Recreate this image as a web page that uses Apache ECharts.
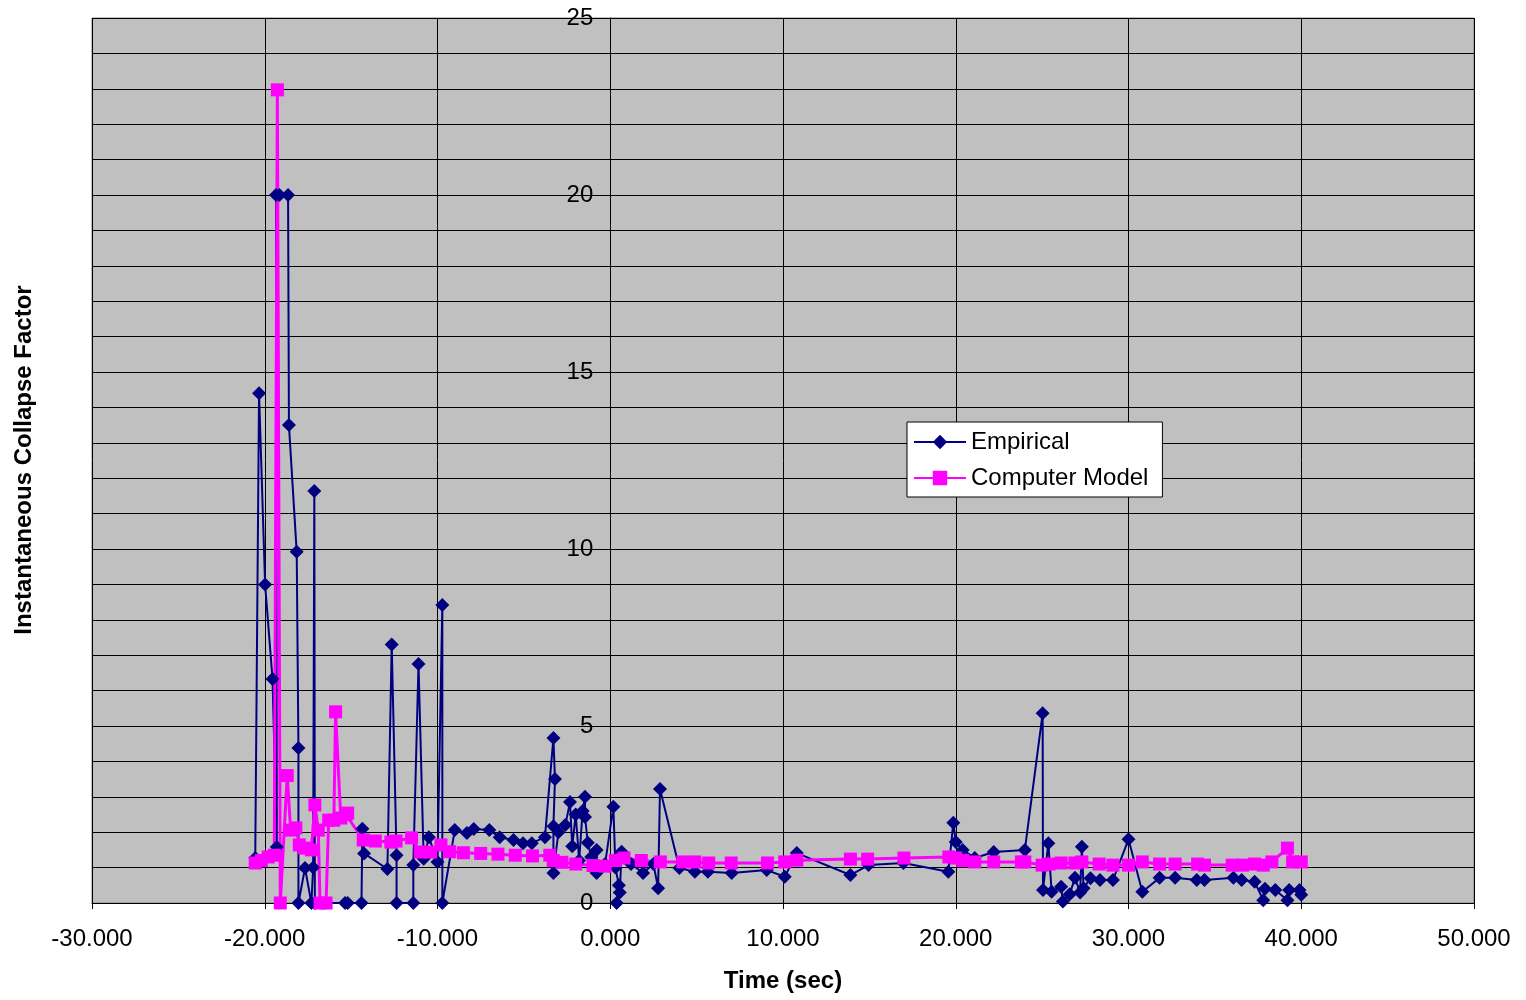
<!DOCTYPE html>
<html><head><meta charset="utf-8">
<script src="https://cdn.jsdelivr.net/npm/echarts@6/dist/echarts.min.js"></script>
<style>html,body{margin:0;padding:0;background:#fff}#c{width:1526px;height:1000px}</style>
</head><body><div id="c"></div>
<script>
const seriesNames = ["Empirical", "Computer Model"];
const empTime = [-20.55,-20.33,-19.98,-19.55,-19.3,-19.35,-19.15,-18.65,-18.6,-18.15,-18.05,-18.05,-17.67,-17.3,-17.2,-17.13,-17.1,-15.35,-15.2,-14.4,-14.35,-14.25,-12.9,-12.65,-12.37,-12.37,-11.4,-11.4,-11.1,-10.8,-10.5,-10.0,-9.72,-9.72,-9.0,-8.3,-7.9,-7.0,-6.4,-5.6,-5.05,-4.54,-3.78,-3.29,-3.2,-3.29,-3.29,-3.0,-2.6,-2.33,-2.2,-2.0,-1.8,-1.6,-1.46,-1.46,-1.3,-1.1,-0.79,-0.79,-0.3,0.18,0.3,0.5,0.37,0.55,0.66,1.2,1.9,2.5,2.77,2.88,4.0,4.9,5.65,7.03,9.06,10.1,10.8,13.9,14.95,16.97,19.57,19.86,20.0,20.4,21.1,22.2,24.0,25.03,25.05,25.36,25.55,26.1,26.2,26.6,26.9,27.2,27.3,27.4,27.8,28.35,29.1,30.0,30.8,31.8,32.7,33.95,34.4,36.07,36.55,37.3,37.8,37.9,38.5,39.2,39.3,39.9,40.0];
const empValue = [1.27,14.4,9.0,6.33,1.58,20.0,20.0,20.0,13.5,9.92,4.38,0,0.99,0,1.0,11.64,0,0,0,0,2.1,1.4,0.96,7.3,1.35,0,0,1.07,6.75,1.25,1.86,1.16,8.42,0,2.06,1.98,2.09,2.06,1.86,1.78,1.69,1.69,1.86,4.66,3.5,2.17,0.85,2.0,2.2,2.85,1.6,2.5,1.2,2.6,3.0,2.43,1.7,1.3,1.5,0.85,1.1,2.72,1.0,0.5,0,0.3,1.45,1.1,0.85,1.1,0.42,3.22,0.99,0.88,0.88,0.85,0.93,0.74,1.41,0.79,1.07,1.13,0.88,2.27,1.72,1.5,1.27,1.44,1.5,5.36,0.37,1.69,0.32,0.46,0.04,0.25,0.71,0.3,1.59,0.42,0.7,0.65,0.65,1.8,0.32,0.71,0.71,0.65,0.65,0.71,0.65,0.6,0.08,0.4,0.37,0.08,0.37,0.37,0.23];
const modelTime = [-20.55,-20.2,-19.8,-19.45,-19.27,-19.1,-18.7,-18.5,-18.2,-18.0,-17.7,-17.3,-17.1,-16.9,-16.8,-16.45,-16.3,-16.0,-15.9,-15.6,-15.3,-15.2,-14.3,-13.6,-12.7,-12.4,-11.5,-11.0,-10.4,-9.8,-9.3,-8.5,-7.5,-6.5,-5.5,-4.5,-3.5,-3.3,-2.8,-2.0,-1.0,-0.3,0.3,0.8,1.8,2.9,4.2,4.9,5.7,7.0,9.1,10.1,10.8,13.9,14.9,17.0,19.6,20.0,20.4,21.1,22.2,23.8,24.0,25.0,25.4,26.1,26.9,27.3,28.3,29.1,30.0,30.8,31.8,32.7,34.0,34.4,36.0,36.6,37.3,37.8,38.3,39.2,39.5,40.0];
const modelValue = [1.13,1.2,1.3,1.35,22.97,0,3.6,2.06,2.12,1.64,1.55,1.5,2.77,2.06,0,0,2.34,2.34,5.4,2.4,2.5,2.54,1.78,1.75,1.72,1.75,1.84,1.44,1.44,1.64,1.45,1.42,1.4,1.38,1.35,1.33,1.35,1.2,1.15,1.1,1.06,1.04,1.2,1.27,1.2,1.16,1.16,1.16,1.13,1.13,1.13,1.16,1.21,1.24,1.24,1.27,1.3,1.27,1.2,1.16,1.16,1.16,1.16,1.07,1.1,1.13,1.13,1.16,1.1,1.07,1.07,1.16,1.1,1.1,1.1,1.07,1.07,1.07,1.1,1.07,1.16,1.55,1.16,1.16];
const xTitle = "Time (sec)";
const yTitle = "Instantaneous Collapse Factor";

const chart = echarts.init(document.getElementById('c'));
const font = '"Liberation Sans", Arial, sans-serif';
const gridLeft = 92, gridRight = 52;
const plotW = 1526 - gridLeft - gridRight;
const xMin = -30, xMax = 50;
const yAxisOffset = -plotW * (0 - xMin) / (xMax - xMin);
chart.setOption({
  animation: false,
  backgroundColor: '#ffffff',
  textStyle: { fontFamily: font },
  grid: { left: gridLeft, right: gridRight, top: 18, bottom: 97, show: true, backgroundColor: '#c0c0c0', borderColor: '#808080', borderWidth: 1 },
  legend: {
    orient: 'vertical', left: 907, top: 422,
    backgroundColor: '#ffffff', borderColor: '#000', borderWidth: 1,
    padding: [8, 14, 7, 6], itemWidth: 52, itemHeight: 18, itemGap: 12,
    textStyle: { fontSize: 24, color: '#000', fontFamily: font },
    data: seriesNames
  },
  xAxis: {
    type: 'value', min: xMin, max: xMax, interval: 10,
    name: xTitle, nameLocation: 'middle', nameGap: 66,
    nameTextStyle: { fontSize: 24, fontWeight: 'bold', color: '#000', fontFamily: font },
    axisLine: { onZero: false, lineStyle: { color: '#000', width: 1 } },
    axisTick: { show: true, length: 6, lineStyle: { color: '#000' } },
    axisLabel: { fontSize: 24, color: '#000', margin: 24, formatter: v => v.toFixed(3) },
    splitLine: { show: true, lineStyle: { color: '#000', width: 1 } }
  },
  yAxis: {
    type: 'value', min: 0, max: 25, interval: 1, position: 'left', offset: yAxisOffset,
    axisLine: { show: true, onZero: false, lineStyle: { color: '#000', width: 1 } },
    axisTick: { show: false },
    axisLabel: { fontSize: 24, color: '#000', margin: 17, formatter: v => (v % 5 === 0 ? String(v) : '') },
    splitLine: { show: true, lineStyle: { color: '#000', width: 1 } }
  },
  graphic: [{
    type: 'text', x: 24, y: 460, rotation: Math.PI / 2,
    style: { text: yTitle, fill: '#000', font: 'bold 24px ' + font, textAlign: 'center', textVerticalAlign: 'middle' }
  }],
  series: [
    {
      name: seriesNames[0], type: 'line', data: empTime.map((t, i) => [t, empValue[i]]),
      symbol: 'diamond', symbolSize: 14, color: '#000080',
      lineStyle: { color: '#000080', width: 2 }, itemStyle: { color: '#000080' }
    },
    {
      name: seriesNames[1], type: 'line', data: modelTime.map((t, i) => [t, modelValue[i]]),
      symbol: 'rect', symbolSize: 13, color: '#ff00ff',
      lineStyle: { color: '#ff00ff', width: 3 }, itemStyle: { color: '#ff00ff' }
    }
  ]
});
</script></body></html>
